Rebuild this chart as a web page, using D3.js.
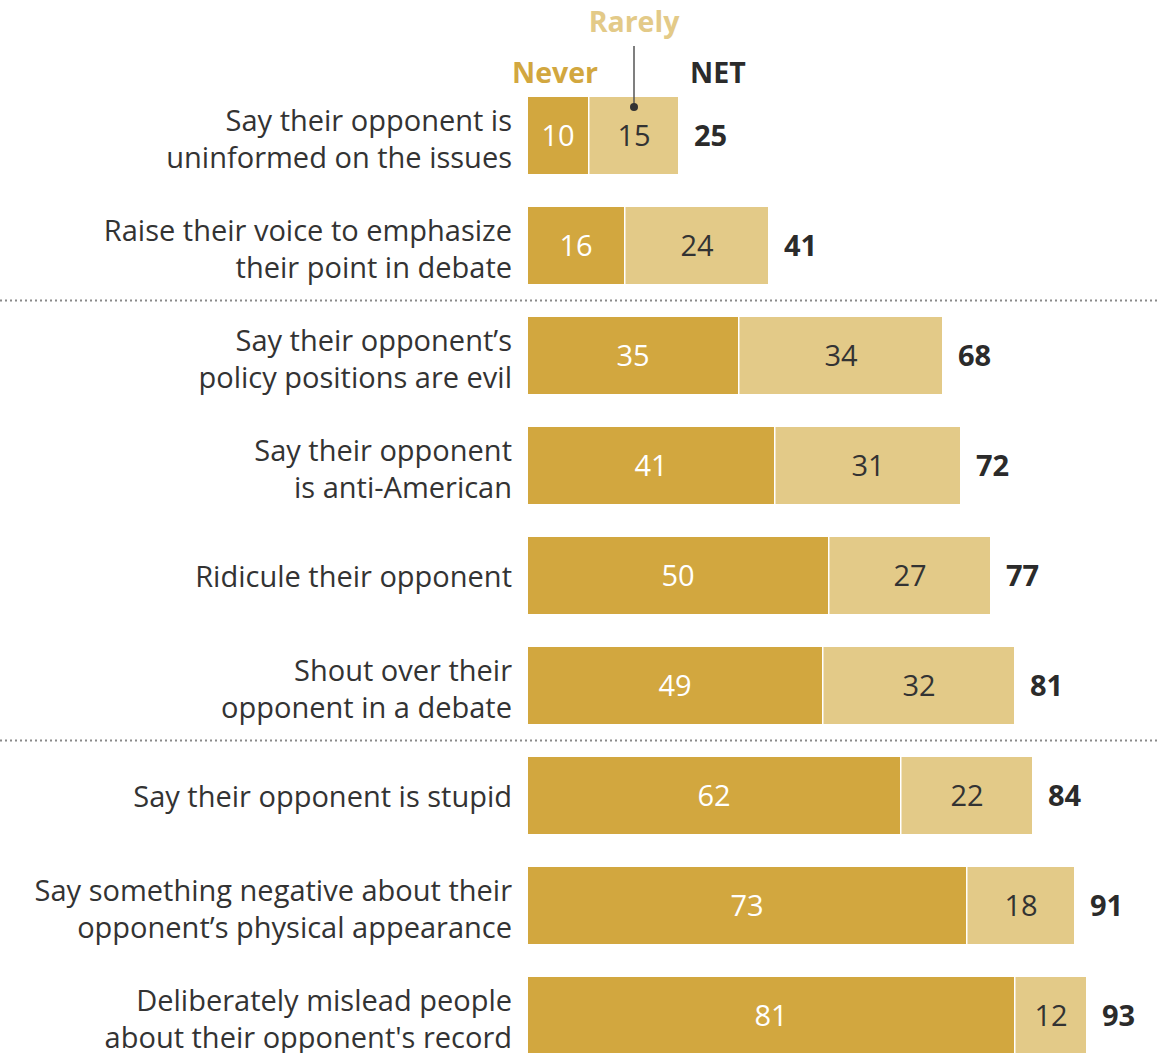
<!DOCTYPE html>
<html>
<head>
<meta charset="utf-8">
<script src="https://cdn.jsdelivr.net/npm/d3@7"></script>
<style>
  body { margin: 0; background: #fff; }
  svg { display: block; font-family: "Open Sans", Roboto, sans-serif; }
  .row-label { fill: #333; font-size: 29px; }
  .val { font-size: 29px; }
  .net { font-size: 29px; font-weight: 700; fill: #2b2b2b; }
  .head { font-size: 28.5px; font-weight: 700; }
</style>
</head>
<body>
<svg id="chart"></svg>
<script>
// data
const categories = [
  ["Say their opponent is", "uninformed on the issues"],
  ["Raise their voice to emphasize", "their point in debate"],
  ["Say their opponent\u2019s", "policy positions are evil"],
  ["Say their opponent", "is anti-American"],
  ["Ridicule their opponent"],
  ["Shout over their", "opponent in a debate"],
  ["Say their opponent is stupid"],
  ["Say something negative about their", "opponent\u2019s physical appearance"],
  ["Deliberately mislead people", "about their opponent's record"]
];
const neverValues = [10, 16, 35, 41, 50, 49, 62, 73, 81];
const rarelyValues = [15, 24, 34, 31, 27, 32, 22, 18, 12];
const netValues = [25, 41, 68, 72, 77, 81, 84, 91, 93];
const separatorsAfter = [1, 5];

const width = 1158, height = 1053;
const colNever = "#d2a73f", colRarely = "#e3ca88";

const svg = d3.select("#chart").attr("width", width).attr("height", height);

const x = d3.scaleLinear().domain([0, 100]).range([528, 1128]);
// step 110, bar height 77
const y = d3.scaleBand().domain(d3.range(categories.length))
  .range([97, 97 + 110 * (categories.length - 0.3)])
  .paddingInner(0.3).paddingOuter(0);

const bh = y.bandwidth();

const rows = svg.selectAll("g.row").data(categories).join("g")
  .attr("class", "row")
  .attr("transform", (d, i) => `translate(0,${y(i)})`);

rows.append("rect")
  .attr("x", x(0))
  .attr("width", (d, i) => x(neverValues[i]) - x(0))
  .attr("height", bh)
  .attr("fill", colNever);

rows.append("rect")
  .attr("x", (d, i) => x(neverValues[i]) + 1.5)
  .attr("width", (d, i) => x(neverValues[i] + rarelyValues[i]) - x(neverValues[i]) - 1.5)
  .attr("height", bh)
  .attr("fill", colRarely);

rows.append("text").attr("class", "val")
  .attr("x", (d, i) => (x(0) + x(neverValues[i])) / 2)
  .attr("y", bh / 2 + 10)
  .attr("text-anchor", "middle")
  .attr("fill", "#fff")
  .text((d, i) => neverValues[i]);

rows.append("text").attr("class", "val")
  .attr("x", (d, i) => (x(neverValues[i]) + x(neverValues[i] + rarelyValues[i])) / 2 + 1)
  .attr("y", bh / 2 + 10)
  .attr("text-anchor", "middle")
  .attr("fill", "#333")
  .text((d, i) => rarelyValues[i]);

rows.append("text").attr("class", "net")
  .attr("x", (d, i) => x(neverValues[i] + rarelyValues[i]) + 16)
  .attr("y", bh / 2 + 10)
  .text((d, i) => netValues[i]);

rows.append("text").attr("class", "row-label")
  .attr("text-anchor", "end")
  .each(function (d) {
    const t = d3.select(this);
    const lh = 37;
    const n = d.length;
    const y0 = bh / 2 + 11 - (n - 1) * lh / 2 + (n - 1) * 2.5;
    d.forEach((line, k) => {
      t.append("tspan").attr("x", 512).attr("y", y0 + k * lh).text(line);
    });
  });

// dotted separators
separatorsAfter.forEach(i => {
  const sy = (y(i) + bh + y(i + 1)) / 2;
  svg.append("line")
    .attr("x1", 0).attr("x2", width)
    .attr("y1", sy).attr("y2", sy)
    .attr("stroke", "#8a8a8a").attr("stroke-width", 2)
    .attr("stroke-dasharray", "2,3");
});

// header labels
svg.append("text").attr("class", "head")
  .attr("x", (x(0) + x(neverValues[0])) / 2 - 3).attr("y", 83)
  .attr("text-anchor", "middle").attr("fill", colNever).text("Never");
svg.append("text").attr("class", "head")
  .attr("x", 690).attr("y", 83)
  .attr("fill", "#2b2b2b").text("NET");

const rx = (x(neverValues[0]) + x(neverValues[0] + rarelyValues[0])) / 2 + 1;
svg.append("text").attr("class", "head")
  .attr("x", rx).attr("y", 32)
  .attr("text-anchor", "middle").attr("fill", colRarely).text("Rarely");
svg.append("line")
  .attr("x1", rx).attr("x2", rx).attr("y1", 46).attr("y2", 107)
  .attr("stroke", "#555").attr("stroke-width", 1.5);
svg.append("circle").attr("cx", rx).attr("cy", 107).attr("r", 4).attr("fill", "#333");
</script>
</body>
</html>
